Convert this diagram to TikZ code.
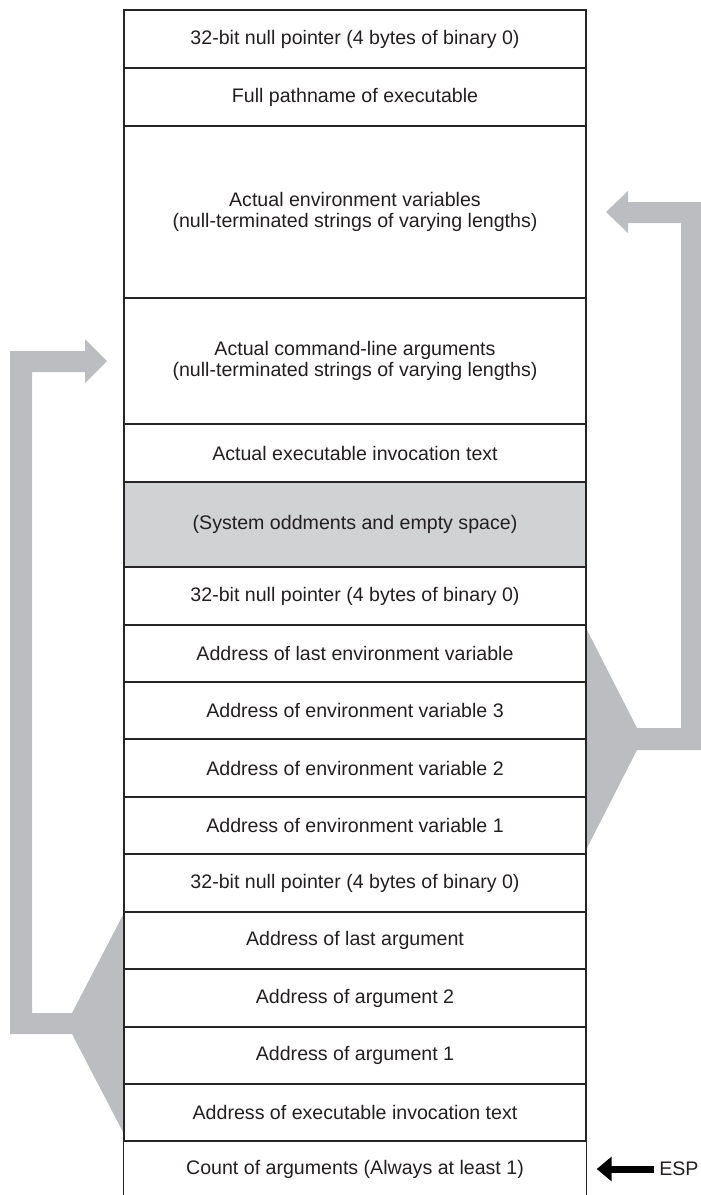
\documentclass[tikz,border=0pt]{standalone}
\usepackage{fontspec}
\setmainfont{Liberation Sans}
\usepackage{xcolor}
\usepackage{tikz}
\usetikzlibrary{arrows.meta,positioning,calc}
\definecolor{clrLine}{RGB}{38,36,37}
\definecolor{clrText}{RGB}{35,31,32}
\definecolor{clrGap}{RGB}{209,210,212}
\definecolor{clrPipe}{RGB}{188,189,193}
\tikzset{
  cell/.style={rectangle,draw=clrLine,line width=1.1pt,text=clrText,
    minimum width=462*0.75pt,minimum height=#1*0.75pt,inner sep=0pt,
    align=center,font=\fontsize{14.7pt}{15.3pt}\selectfont},
  cell/.default=58,
  gapcell/.style={cell=#1,fill=clrGap},
  frame/.style={draw=clrLine,line width=1.1pt},
  pipe/.style={fill=clrPipe},
  ptr/.style={-{Triangle[length=11.25pt,width=18pt]},line width=5.25pt,color=black},
  reglab/.style={anchor=west,inner sep=0pt,text=clrText,
    font=\fontsize{14.7pt}{17pt}\selectfont}
}

\begin{document}
\begin{tikzpicture}[x=0.75pt,y=-0.75pt]
  \def\cx{355}
  \useasboundingbox (0,0) rectangle (700,1195);

  % funnels feeding the pointer blocks back up to the strings
  \fill[pipe] (586,628) -- (637,728) -- (681,728) -- (681,223) -- (628,223)
    -- (628,233) -- (606,212) -- (628,191) -- (628,202) -- (701,202)
    -- (701,750) -- (637,750) -- (586,850) -- cycle;
  \fill[pipe] (124,913) -- (72,1013) -- (32,1013) -- (32,372) -- (85,372)
    -- (85,383) -- (107,361) -- (85,339) -- (85,351) -- (10,351)
    -- (10,1034) -- (72,1034) -- (124,1134) -- cycle;

  \node[cell] (topnull) at (\cx,39) {32-bit null pointer (4 bytes of binary 0)};
  \node[cell] (fullpath) at (\cx,97) {Full pathname of executable};
  \node[cell=172] (envstr) at (\cx,212)
    {Actual environment variables\\(null-terminated strings of varying lengths)};
  \node[cell=126] (argstr) at (\cx,361)
    {Actual command-line arguments\\(null-terminated strings of varying lengths)};
  \node[cell] (invtext) at (\cx,453) {Actual executable invocation text};
  \node[gapcell=85] (oddments) at (\cx,524.5) {(System oddments and empty space)};
  \node[cell] (envnull) at (\cx,596) {32-bit null pointer (4 bytes of binary 0)};
  \node[cell=57] (envlast) at (\cx,653.5) {Address of last environment variable};
  \node[cell=57] (envthree) at (\cx,710.5) {Address of environment variable 3};
  \node[cell] (envtwo) at (\cx,768) {Address of environment variable 2};
  \node[cell=57] (envone) at (\cx,825.5) {Address of environment variable 1};
  \node[cell] (argnull) at (\cx,883) {32-bit null pointer (4 bytes of binary 0)};
  \node[cell=57] (arglast) at (\cx,940.5) {Address of last argument};
  \node[cell] (argtwo) at (\cx,998) {Address of argument 2};
  \node[cell=57] (argone) at (\cx,1055.5) {Address of argument 1};
  \node[cell=57] (invaddr) at (\cx,1112.5) {Address of executable invocation text};
  \node[cell=56,draw=none] (argc) at (\cx,1169) {Count of arguments (Always at least 1)};
  \draw[frame] (argc.north west) -- (argc.south west)
    (argc.north east) -- (argc.south east);

  \node[reglab] (esp) at (659,1169) {ESP};
  \draw[ptr] ([xshift=-4pt]esp.west) -- ([xshift=7.5pt]argc.east);
\end{tikzpicture}
\end{document}
